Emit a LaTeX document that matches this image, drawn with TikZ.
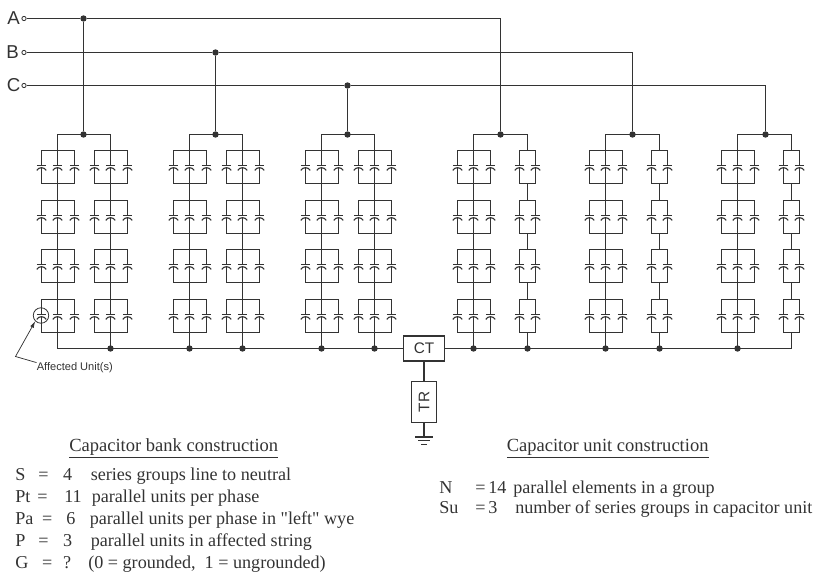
\documentclass[tikz,border=0pt]{standalone}
\usepackage{fontspec}
\newfontfamily\rawserif{Liberation Serif}
\newfontfamily\lblsans{Liberation Sans}
\usetikzlibrary{arrows.meta}
\definecolor{ink}{HTML}{333333}
\tikzset{
  wire/.style={draw=ink,line width=1.15pt},
  capline/.style={draw=ink,line width=0.85pt},
  dotn/.style={circle,fill=ink,inner sep=0pt,minimum size=4.8pt},
  term/.style={circle,draw=ink,fill=white,line width=0.6pt,inner sep=0pt,minimum size=3.2pt},
  phase/.style={font=\lblsans\fontsize{14}{14}\selectfont,text=ink,inner sep=0pt},
  boxn/.style={draw=ink,fill=white,line width=0.9pt,inner sep=0pt,font=\lblsans\fontsize{11.5}{11.5}\selectfont,text=ink},
  heading/.style={font=\rawserif\fontsize{13.9}{13.9}\selectfont,text=ink,inner sep=0pt,anchor=base west},
  txt/.style={font=\rawserif\fontsize{13.6}{13.6}\selectfont,text=ink,inner sep=0pt,anchor=base west},
}
% one table row: column widths in px with label, equals sign, value, description
\newcommand{\pxw}[1]{\dimexpr#1pt*3/4\relax}
\newcommand{\rowtxt}[6]{\makebox[\pxw{#1}][l]{#2}\makebox[\pxw{#3}][l]{=}\makebox[\pxw{#4}][l]{#5}#6}
% capacitor symbol centred at (#1,#2)
\newcommand{\capsym}[2]{%
  \fill[white] (#1-5,#2-1.8) rectangle (#1+5,#2+0.7);
  \draw[capline] (#1-4.7,#2-1.8) -- (#1+4.7,#2-1.8);
  \draw[capline] (#1-4.7,#2+3.4) .. controls (#1-3,#2-0.2) and (#1+3,#2-0.2) .. (#1+4.7,#2+3.4);
}
% three-unit group: centre x, top y
\newcommand{\groupthree}[2]{%
  \draw[wire] (#1-16,#2) rectangle (#1+17,#2+33);
  \draw[wire] (#1,#2) -- (#1,#2+33);
  \capsym{#1-16}{#2+16.5}\capsym{#1}{#2+16.5}\capsym{#1+17}{#2+16.5}%
}
\newcommand{\grouptwo}[2]{%
  \draw[wire] (#1-8,#2) rectangle (#1+8,#2+33);
  \capsym{#1-8}{#2+16.5}\capsym{#1+8}{#2+16.5}%
}
\begin{document}
\begin{tikzpicture}[x=0.75pt,y=-0.75pt]
\useasboundingbox (0,0) rectangle (820,574);
% terminals
\node[phase,anchor=east] (la) at (20,18) {A};
\node[phase,anchor=east] (lb) at (19,52) {B};
\node[phase,anchor=east] (lc) at (20.5,85) {C};
\node[term] (ta) at (24,18.5) {};
\node[term] (tb) at (24,52.5) {};
\node[term] (tc) at (24,85.5) {};
% junctions on the lines
\node[dotn] (ja1) at (83.5,18.5) {};
\node[dotn] (jb1) at (215.5,52.5) {};
\node[dotn] (jc1) at (347.5,85.5) {};
\coordinate (ea) at (500.5,18.5);
\coordinate (eb) at (632.5,52.5);
\coordinate (ec) at (765.5,85.5);
\node[dotn] (ja2) at (500.5,134.5) {};
\node[dotn] (jb2) at (632.5,134.5) {};
\node[dotn] (jc2) at (765.5,134.5) {};
\node[dotn] (ka1) at (83.5,134.5) {};
\node[dotn] (kb1) at (215.5,134.5) {};
\node[dotn] (kc1) at (347.5,134.5) {};
\draw[wire] (ta) -- (ja1) -- (ea) -- (ja2);
\draw[wire] (tb) -- (jb1) -- (eb) -- (jb2);
\draw[wire] (tc) -- (jc1) -- (ec) -- (jc2);
\draw[wire] (ja1) -- (ka1);
\draw[wire] (jb1) -- (kb1);
\draw[wire] (jc1) -- (kc1);
% left wye strings
\foreach \xa/\xb in {57.5/110.5, 189.5/242.5, 321.5/374.5}{
  \draw[wire] (\xa,150.5) -- (\xa,134.5) -- (\xb,134.5) -- (\xb,150.5);
  \foreach \x in {\xa,\xb}{
    \foreach \ty/\te in {183.5/200.5,233.5/249.5,282.5/299.5,332.5/348.5}{
      \draw[wire] (\x,\ty) -- (\x,\te);
    }
    \foreach \ty in {150.5,200.5,249.5,299.5}{
      \groupthree{\x}{\ty}
    }
  }
}
% right wye strings
\foreach \xa/\xb in {473.5/527.5, 605.5/659.5, 737.5/791.5}{
  \draw[wire] (\xa,150.5) -- (\xa,134.5) -- (\xb,134.5) -- (\xb,150.5);
  \foreach \ty/\te in {183.5/200.5,233.5/249.5,282.5/299.5,332.5/348.5}{
    \draw[wire] (\xa,\ty) -- (\xa,\te);
    \draw[wire] (\xb,\ty) -- (\xb,\te);
  }
  \foreach \ty in {150.5,200.5,249.5,299.5}{
    \groupthree{\xa}{\ty}
    \grouptwo{\xb}{\ty}
  }
}
% neutral and CT
\node[boxn,minimum width=31pt,minimum height=18.8pt] (ct) at (424,348.5) {CT};
\node[boxn,minimum width=18.8pt,minimum height=31pt] (tr) at (424,402) {\rotatebox{90}{TR}};
\coordinate (nl) at (57.5,348.5);
\coordinate (nr) at (791.5,348.5);
\coordinate (g) at (424,437);
\draw[wire] (nl) -- (ct) -- (nr);
\draw[wire] (ct) -- (tr) -- (g);
\draw[wire] (415,437) -- (433,437);
\draw[wire] (418,440.7) -- (430,440.7);
\draw[wire] (421,444.4) -- (427,444.4);
% neutral dots
\foreach \x in {110.5,189.5,242.5,321.5,374.5,473.5,527.5,605.5,659.5,737.5}{
  \node[dotn] at (\x,348.5) {};
}
% affected unit
\node[circle,draw=ink,line width=0.6pt,inner sep=0pt,minimum size=11.6pt] (au) at (41,315.5) {};
\coordinate (bend) at (15.5,356.5);
\node[font=\lblsans\fontsize{8.3}{8.3}\selectfont,text=ink,inner sep=0pt,anchor=west] (aul) at (36.5,368) {Affected Unit(s)};
\draw[draw=ink,line width=0.55pt,-{Latex[length=5pt,width=3pt]}] (aul.north west) -- (bend) -- (au.south west);
% text blocks
\node[heading] (h1) at (69,451.5) {\underline{Capacitor bank construction}};
\node[heading] (h2) at (506.5,451.5) {\underline{Capacitor unit construction}};
\node[txt] (s) at (15,480.5) {\rowtxt{23}{S}{25}{27.5}{4}{series groups line to neutral}};
\node[txt] (pt) at (15,502) {\rowtxt{22}{Pt}{27}{27.5}{11}{parallel units per phase}};
\node[txt] (pa) at (15,524) {\rowtxt{27}{Pa}{24}{23.5}{6}{parallel units per phase in "left" wye}};
\node[txt] (p) at (15,546) {\rowtxt{23}{P}{25}{27.5}{3}{parallel units in affected string}};
\node[txt] (gg) at (15,568) {\rowtxt{27}{G}{21}{25}{?}{(0 = grounded,\ \ 1 = ungrounded)}};
\node[txt] (n) at (439,493) {\rowtxt{36}{N}{13}{25}{14}{parallel elements in a group}};
\node[txt] (su) at (439,513) {\rowtxt{36}{Su}{13}{27}{3}{number of series groups in capacitor unit}};
\end{tikzpicture}
\end{document}
